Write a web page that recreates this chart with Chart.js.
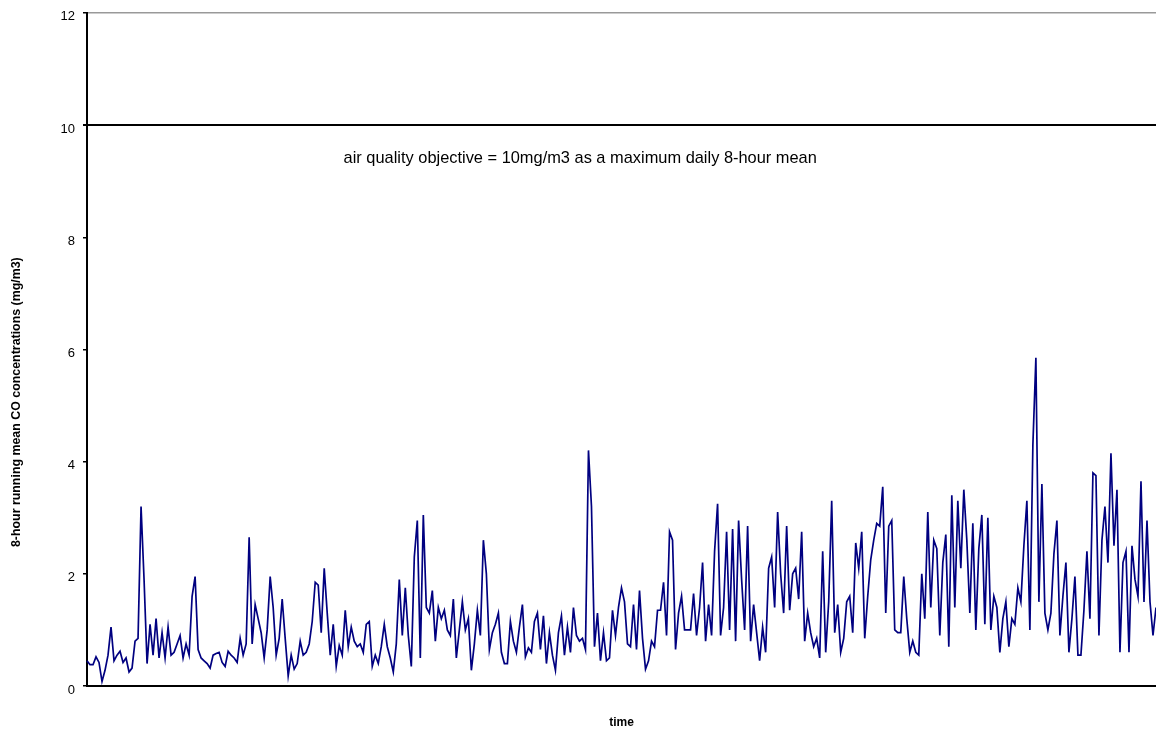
<!DOCTYPE html>
<html>
<head>
<meta charset="utf-8">
<script src="https://cdn.jsdelivr.net/npm/chart.js@4"></script>
<style>
  html, body { margin: 0; padding: 0; background: #ffffff; }
  #wrap { width: 1156px; height: 733px; }
</style>
</head>
<body>
<div id="wrap"><canvas id="coChart"></canvas></div>
<script>
// === 8-hour running mean CO (mg/m3) left to right ===
const coValues = [
  0.45, 0.38, 0.38, 0.52, 0.42, 0.08, 0.28, 0.55, 1.05, 0.45, 0.55, 0.62, 0.42, 0.5, 0.25, 0.32, 0.8, 0.85, 3.2, 1.9,
  0.4, 1.1, 0.55, 1.2, 0.5, 0.95, 0.5, 1.05, 0.55, 0.6, 0.75, 0.9, 0.5, 0.75, 0.55, 1.6, 1.95, 0.65, 0.5, 0.45, 0.4,
  0.32, 0.55, 0.58, 0.6, 0.42, 0.35, 0.62, 0.55, 0.5, 0.42, 0.85, 0.55, 0.75, 2.65, 0.75, 1.45, 1.2, 0.95, 0.5, 1.0,
  1.95, 1.4, 0.55, 0.85, 1.55, 0.85, 0.18, 0.55, 0.3, 0.4, 0.8, 0.55, 0.6, 0.75, 1.15, 1.85, 1.8, 0.95, 2.1, 1.3,
  0.55, 1.1, 0.35, 0.72, 0.55, 1.35, 0.7, 1.05, 0.8, 0.7, 0.75, 0.6, 1.1, 1.15, 0.35, 0.55, 0.4, 0.7, 1.1, 0.7,
  0.5, 0.25, 0.75, 1.9, 0.9, 1.75, 0.9, 0.35, 2.3, 2.95, 0.5, 3.05, 1.4, 1.3, 1.7, 0.8, 1.4, 1.2, 1.35, 1.0,
  0.9, 1.55, 0.5, 1.0, 1.5, 1.0, 1.2, 0.28, 0.75, 1.35, 0.9, 2.6, 2.0, 0.65, 0.95, 1.1, 1.3, 0.6, 0.4, 0.4,
  1.15, 0.8, 0.6, 1.05, 1.45, 0.52, 0.68, 0.6, 1.15, 1.3, 0.65, 1.25, 0.4, 0.95, 0.55, 0.28, 0.95, 1.25, 0.55, 1.05,
  0.6, 1.4, 0.9, 0.8, 0.85, 0.65, 4.2, 3.2, 0.7, 1.3, 0.45, 0.95, 0.45, 0.5, 1.35, 0.9, 1.4, 1.75, 1.5, 0.75,
  0.7, 1.45, 0.65, 1.7, 0.85, 0.3, 0.45, 0.8, 0.7, 1.35, 1.35, 1.85, 0.9, 2.75, 2.6, 0.65, 1.3, 1.6, 1.0, 1.0,
  1.0, 1.65, 0.9, 1.4, 2.2, 0.8, 1.45, 0.9, 2.4, 3.25, 0.9, 1.4, 2.75, 1.0, 2.8, 0.8, 2.95, 1.9, 1.0, 2.85,
  0.8, 1.45, 0.95, 0.45, 1.05, 0.6, 2.1, 2.3, 1.4, 3.1, 2.0, 1.3, 2.85, 1.35, 2.0, 2.1, 1.55, 2.75, 0.8, 1.3,
  0.95, 0.7, 0.85, 0.5, 2.4, 0.6, 1.5, 3.3, 0.95, 1.45, 0.6, 0.85, 1.5, 1.6, 0.95, 2.55, 2.1, 2.75, 0.85, 1.6,
  2.25, 2.6, 2.9, 2.85, 3.55, 1.3, 2.85, 2.95, 1.0, 0.95, 0.95, 1.95, 1.2, 0.6, 0.8, 0.6, 0.55, 2.0, 1.2, 3.1,
  1.4, 2.6, 2.45, 0.9, 2.2, 2.7, 0.7, 3.4, 1.4, 3.3, 2.1, 3.5, 2.6, 1.3, 2.9, 1.0, 2.45, 3.05, 1.1, 3.0,
  1.0, 1.6, 1.4, 0.6, 1.2, 1.5, 0.7, 1.2, 1.1, 1.75, 1.5, 2.5, 3.3, 1.0, 4.3, 5.85, 1.5, 3.6, 1.3, 1.0,
  1.3, 2.35, 2.95, 0.9, 1.6, 2.2, 0.6, 1.2, 1.95, 0.55, 0.55, 1.35, 2.4, 1.2, 3.8, 3.75, 0.9, 2.6, 3.2, 2.2,
  4.15, 2.5, 3.5, 0.6, 2.2, 2.4, 0.6, 2.5, 1.9, 1.6, 3.65, 1.5, 2.95, 1.5, 0.9, 1.4
];
const timeLabels = coValues.map((_, i) => i);   // hourly steps, no labels shown
const yTicks = [0, 2, 4, 6, 8, 10, 12];
const objectiveLevel = 10;
const objectiveNote = 'air quality objective = 10mg/m3 as a maximum daily 8-hour mean';
const xTitle = 'time';
const yTitle = '8-hour running mean CO concentrations (mg/m3)';

const FONT = '"Liberation Sans", Arial, sans-serif';

// texts drawn by hand so they sit where the original puts them
const chartText = {
  id: 'chartText',
  afterDraw(chart) {
    const { ctx, chartArea, scales } = chart;
    ctx.save();
    ctx.fillStyle = '#000';
    ctx.textBaseline = 'middle';

    ctx.font = '16.4px ' + FONT;
    ctx.textAlign = 'left';
    ctx.fillText(objectiveNote, chartArea.left + chartArea.width * 0.24, scales.y.getPixelForValue(9.41));

    ctx.font = 'bold 12px ' + FONT;
    ctx.textAlign = 'center';
    ctx.fillText(xTitle, (chartArea.left + chartArea.right) / 2, chartArea.bottom + 37);

    ctx.translate(17, scales.y.getPixelForValue(5.06));
    ctx.rotate(-Math.PI / 2);
    ctx.font = 'bold 12.4px ' + FONT;
    ctx.fillText(yTitle, 0, 0);
    ctx.restore();
  }
};

new Chart(document.getElementById('coChart'), {
  type: 'line',
  data: {
    labels: timeLabels,
    datasets: [{
      data: coValues,
      borderColor: '#000080',
      borderWidth: 1.7,
      pointRadius: 0,
      tension: 0,
      fill: false
    }]
  },
  options: {
    responsive: true,
    maintainAspectRatio: false,
    animation: false,
    layout: { padding: { top: 8, left: 0, right: 0, bottom: 0 } },
    plugins: {
      legend: { display: false },
      tooltip: { enabled: false }
    },
    scales: {
      x: {
        type: 'category',
        offset: false,
        grid: { display: false },
        ticks: { display: false },
        border: { color: '#000', width: 2 },
        afterFit: s => { s.height = 47; }
      },
      y: {
        min: 0,
        max: 12,
        afterBuildTicks: s => { s.ticks = yTicks.map(v => ({ value: v })); },
        ticks: {
          color: '#000',
          font: { size: 13, family: FONT, lineHeight: 0.75 },
          padding: 8,
          labelOffset: 4
        },
        grid: {
          color: c => c.tick.value === objectiveLevel ? '#000' : (c.tick.value === 12 ? '#999999' : 'rgba(0,0,0,0)'),
          lineWidth: c => c.tick.value === objectiveLevel ? 2 : 1.5,
          tickColor: '#000',
          tickLength: 4
        },
        border: { color: '#000', width: 2 },
        afterFit: s => { s.width = 87; }
      }
    }
  },
  plugins: [chartText]
});
</script>
</body>
</html>
